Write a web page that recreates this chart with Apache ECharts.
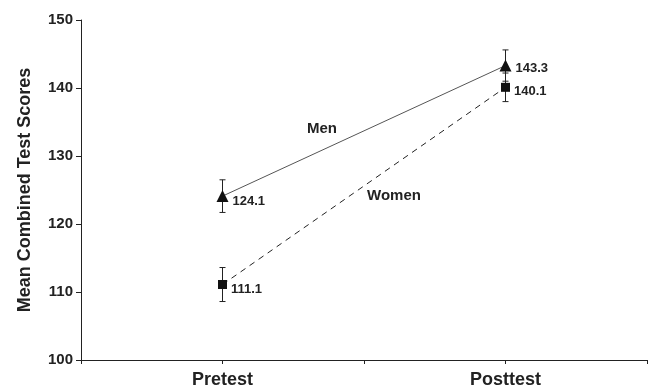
<!DOCTYPE html>
<html><head><meta charset="utf-8">
<script src="https://cdn.jsdelivr.net/npm/echarts@6/dist/echarts.min.js"></script>
<style>html,body{margin:0;padding:0;background:#fff}#c{width:650px;height:390px}</style>
</head><body><div id="c"></div>
<script>
var categories = ['Pretest', 'Posttest'];
var menValues = [124.1, 143.3];
var womenValues = [111.1, 140.1];
var menErrors = [2.4, 2.3];
var womenErrors = [2.5, 2.1];
var yTicks = [100, 110, 120, 130, 140, 150];

function catPos(i) { return i * 2 + 1; }
var F = 'Liberation Sans, Arial, Helvetica, sans-serif';

var chart = echarts.init(document.getElementById('c'));
function errData(vals, errs) {
  return vals.map(function (v, i) { return [catPos(i), v - errs[i], v + errs[i]]; });
}
function errSeries(vals, errs) {
  return {
    type: 'custom', silent: true, z: 1,
    data: errData(vals, errs),
    renderItem: function (params, api) {
      var x = api.value(0);
      var lo = api.coord([x, api.value(1)]);
      var hi = api.coord([x, api.value(2)]);
      var w = 3;
      var st = { stroke: '#222', lineWidth: 1 };
      return { type: 'group', children: [
        { type: 'line', shape: { x1: lo[0], y1: lo[1], x2: hi[0], y2: hi[1] }, style: st },
        { type: 'line', shape: { x1: lo[0] - w, y1: lo[1], x2: lo[0] + w, y2: lo[1] }, style: st },
        { type: 'line', shape: { x1: hi[0] - w, y1: hi[1], x2: hi[0] + w, y2: hi[1] }, style: st }
      ]};
    }
  };
}
function valLabel() {
  return {
    show: true, position: 'right', distance: 4,
    color: '#222', fontFamily: F, fontWeight: 'bold', fontSize: 13,
    formatter: function (p) { return p.value[1].toFixed(1); }
  };
}
function pts(vals, dy) {
  return vals.map(function (v, i) { return { value: [catPos(i), v], label: { offset: [0, dy[i]] } }; });
}
chart.setOption({
  animation: false,
  grid: { left: 81, right: 2, top: 20, bottom: 30, containLabel: false },
  xAxis: {
    type: 'value', min: 0, max: 4, interval: 1,
    axisLine: { show: true, lineStyle: { color: '#222', width: 1 } },
    axisTick: { show: true, length: 4, lineStyle: { color: '#222' } },
    splitLine: { show: false },
    axisLabel: {
      margin: 11, color: '#222', fontFamily: F, fontWeight: 'bold', fontSize: 18,
      formatter: function (v) { var i = (v - 1) / 2; return categories[i] !== undefined && i === Math.floor(i) ? categories[i] : ''; }
    }
  },
  yAxis: {
    type: 'value', min: yTicks[0], max: yTicks[yTicks.length - 1], interval: 10,
    name: 'Mean Combined Test Scores', nameLocation: 'middle', nameGap: 47,
    nameTextStyle: { color: '#222', fontFamily: F, fontWeight: 'bold', fontSize: 18 },
    axisLine: { show: true, lineStyle: { color: '#222', width: 1 } },
    axisTick: { show: true, length: 5, lineStyle: { color: '#222' } },
    splitLine: { show: false },
    axisLabel: { margin: 8, color: '#222', fontFamily: F, fontWeight: 'bold', fontSize: 15 }
  },
  series: [
    errSeries(menValues, menErrors),
    errSeries(womenValues, womenErrors),
    {
      type: 'line', z: 3, name: 'Men',
      data: pts(menValues, [5, 3]),
      symbol: 'triangle', symbolSize: 12,
      lineStyle: { color: '#555', width: 1 },
      itemStyle: { color: '#111' },
      label: valLabel()
    },
    {
      type: 'line', z: 3, name: 'Women',
      data: pts(womenValues, [5, 4]),
      symbol: 'rect', symbolSize: 9,
      lineStyle: { color: '#222', width: 1, type: [6, 5] },
      itemStyle: { color: '#111' },
      label: valLabel()
    }
  ],
  graphic: [
    { type: 'text', x: 307, y: 129, style: { text: 'Men', fill: '#222', font: 'bold 15px ' + F, verticalAlign: 'middle' } },
    { type: 'text', x: 367, y: 196, style: { text: 'Women', fill: '#222', font: 'bold 15px ' + F, verticalAlign: 'middle' } }
  ]
});
</script></body></html>
